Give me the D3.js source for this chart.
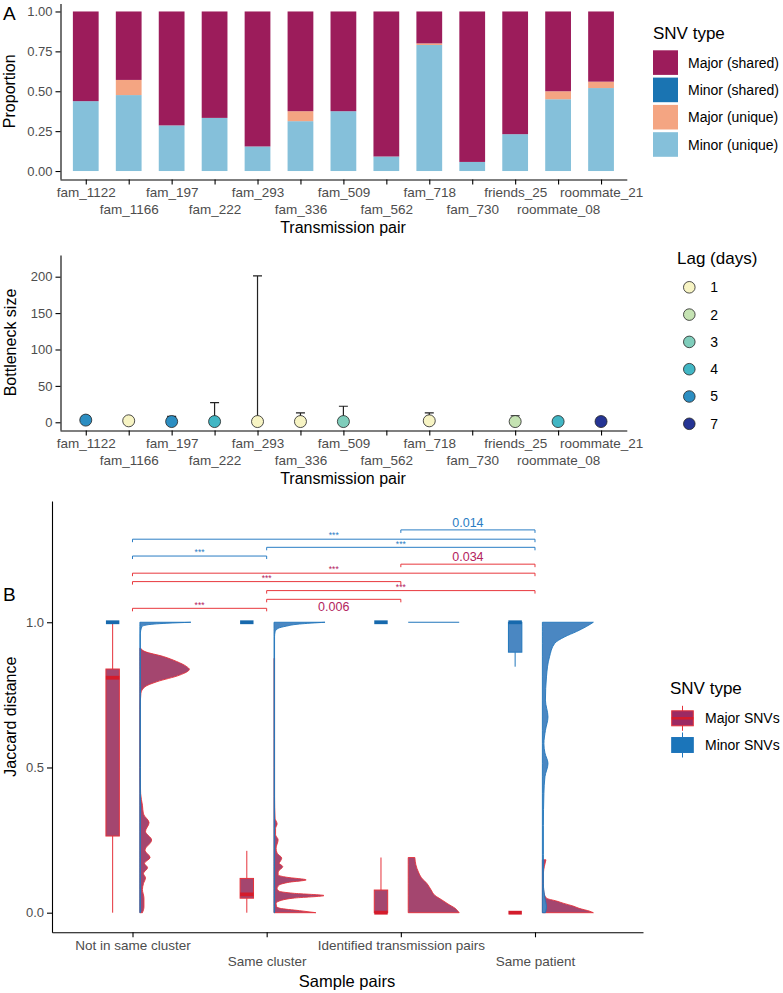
<!DOCTYPE html>
<html>
<head>
<meta charset="utf-8">
<script src="https://cdn.jsdelivr.net/npm/d3@7"></script>
<style>
  body { margin: 0; background: #fff; }
  svg { font-family: "Liberation Sans", Arial, Helvetica, sans-serif; }
  .axis text { fill: #4d4d4d; font-size: 13px; }
  .axis.x text { font-size: 13.5px; }
  .axis path, .axis line { stroke: #000; stroke-width: 1.1; }
</style>
</head>
<body>
<script>
// panel A: SNV composition per transmission pair
const pairs = ["fam_1122", "fam_1166", "fam_197", "fam_222", "fam_293", "fam_336", "fam_509",
  "fam_562", "fam_718", "fam_730", "friends_25", "roommate_08", "roommate_21"];
const snvTypes = ["Major (shared)", "Minor (shared)", "Major (unique)", "Minor (unique)"];
const majorShared = [0.562, 0.429, 0.714, 0.667, 0.846, 0.625, 0.625, 0.909, 0.20, 0.943, 0.769, 0.50, 0.44];
const minorShared = [0, 0, 0, 0, 0, 0, 0, 0, 0, 0, 0, 0, 0];
const majorUnique = [0, 0.095, 0, 0, 0, 0.0625, 0, 0, 0.01, 0, 0, 0.05, 0.04];
const minorUnique = [0.438, 0.476, 0.286, 0.333, 0.154, 0.3125, 0.375, 0.091, 0.79, 0.057, 0.231, 0.45, 0.52];
const propTicks = [0, 0.25, 0.5, 0.75, 1];

// bottleneck estimates
const bnEstimate = [3, 2, 1, 1, 1, 1, 1, null, 2, null, 1, 1, 1];
const bnLower = [0, 0, 0, 0, 0, 0, 0, null, 0, null, 0, 0, 0];
const bnUpper = [8, 3, 8, 27, 201, 13, 22, null, 13, null, 9, 3, 2];
const bnLag = [5, 1, 5, 4, 1, 1, 3, null, 1, null, 2, 4, 7];
const lagLevels = [1, 2, 3, 4, 5, 7];
const bnTicks = [0, 50, 100, 150, 200];

// panel B: jaccard distances
const groups = ["Not in same cluster", "Same cluster", "Identified transmission pairs", "Same patient"];
const snvSets = ["Major SNVs", "Minor SNVs"];
const jacTicks = [0, 0.5, 1];
// [min, q1, median, q3, max]
const majorBox = [[0, 0.264, 0.809, 0.839, 1], [0, 0.05, 0.063, 0.118, 0.213], [0, 0, 0, 0.078, 0.19], [0, 0, 0, 0, 0]];
const minorBox = [[1, 1, 1, 1, 1], [1, 1, 1, 1, 1], [1, 1, 1, 1, 1], [0.847, 0.897, 1, 1, 1]];
// [jaccard, relative density]
const majorDensity = [
  [[0, 0.05], [0.02, 0.08], [0.05, 0.08], [0.08, 0.05], [0.1, 0.07], [0.12, 0.11], [0.135, 0.07], [0.155, 0.15],
   [0.17, 0.09], [0.19, 0.2], [0.215, 0.1], [0.25, 0.23], [0.28, 0.11], [0.31, 0.18], [0.34, 0.07], [0.37, 0.05],
   [0.41, 0.015], [0.5, 0.005], [0.7, 0.005], [0.755, 0.02], [0.778, 0.1], [0.795, 0.33], [0.818, 0.78],
   [0.838, 0.97], [0.847, 0.92], [0.865, 0.72], [0.882, 0.46], [0.899, 0.1], [0.911, 0.01]],
  [[0, 0.82], [0.007, 0.5], [0.015, 0.12], [0.021, 0.05], [0.032, 0.04], [0.043, 0.15], [0.05, 0.37], [0.059, 0.98],
   [0.067, 0.37], [0.074, 0.1], [0.083, 0.06], [0.095, 0.1], [0.105, 0.3], [0.113, 0.63], [0.122, 0.25],
   [0.13, 0.08], [0.14, 0.08], [0.159, 0.17], [0.17, 0.1], [0.176, 0.12], [0.188, 0.15], [0.205, 0.06],
   [0.222, 0.04], [0.251, 0.08], [0.268, 0.03], [0.29, 0.03], [0.306, 0.06], [0.325, 0.02], [0.4, 0.01],
   [0.6, 0.01], [0.876, 0.01]],
  [[0, 1], [0.015, 0.92], [0.03, 0.78], [0.044, 0.66], [0.06, 0.52], [0.078, 0.45], [0.1, 0.37], [0.12, 0.26],
   [0.14, 0.2], [0.165, 0.15], [0.19, 0.13]],
  [[0, 1], [0.005, 0.93], [0.015, 0.72], [0.023, 0.6], [0.032, 0.42], [0.04, 0.28], [0.05, 0.08], [0.07, 0.03],
   [0.09, 0.02], [0.136, 0.02], [0.16, 0.04], [0.182, 0.07]]
];
const minorDensity = [
  [[0, 0.01], [0.5, 0.01], [0.96, 0.01], [0.985, 0.04], [0.991, 0.14], [0.9966, 0.53], [1, 1]],
  [[0, 0.01], [0.5, 0.01], [0.95, 0.01], [0.967, 0.02], [0.979, 0.08], [0.987, 0.25], [0.994, 0.5], [1, 1]],
  [[1, 1]],
  [[0, 0.06], [0.02, 0.08], [0.05, 0.05], [0.1, 0.02], [0.2, 0.02], [0.3, 0.02], [0.41, 0.03], [0.468, 0.05],
   [0.514, 0.11], [0.55, 0.05], [0.582, 0.03], [0.628, 0.06], [0.674, 0.11], [0.732, 0.06], [0.812, 0.08],
   [0.881, 0.14], [0.927, 0.24], [0.95, 0.44], [0.968, 0.67], [0.985, 0.86], [1, 1]]
];
// comparisons: [group from, group to, bracket height, label]
const minorTests = [[3, 4, 1.318, "0.014"], [1, 4, 1.286, "***"], [2, 4, 1.258, "***"], [1, 2, 1.228, "***"]];
const majorTests = [[3, 4, 1.2, "0.034"], [1, 4, 1.169, "***"], [1, 3, 1.14, "***"], [2, 4, 1.109, "***"],
  [2, 3, 1.079, "0.006"], [1, 2, 1.048, "***"]];
const labelsBelow = ["0.006"];

const width = 783;
const height = 993;

const svg = d3.select("body").append("svg").attr("width", width).attr("height", height);
svg.append("rect").attr("width", width).attr("height", height).attr("fill", "#fff");

function yAxis(x, scale, ticks, fmt) {
  svg.append("g").attr("class", "axis y").attr("transform", `translate(${x},0)`)
    .call(d3.axisLeft(scale).tickValues(ticks).tickFormat(fmt).tickSize(5).tickPadding(3).tickSizeOuter(0));
}

// x labels are dodged over two rows
function xAxis(y, scale, ticks, fmt) {
  const g = svg.append("g").attr("class", "axis x").attr("transform", `translate(0,${y})`)
    .call(d3.axisBottom(scale).tickValues(ticks).tickFormat(fmt).tickSize(5).tickPadding(3).tickSizeOuter(0));
  g.selectAll(".tick text").attr("dy", (d, i) => (i % 2 ? "1.93em" : "0.71em"));
}

function title(x, y, txt, size, rotate) {
  const t = svg.append("text").attr("font-size", size).attr("fill", "#000").text(txt);
  if (rotate) t.attr("transform", `translate(${x},${y}) rotate(-90)`).attr("text-anchor", "middle");
  else t.attr("x", x).attr("y", y);
  return t;
}

// ---------- A (top) ----------
const xPair = d3.scalePoint().domain(pairs).range([60, 626.8]).padding(0.6);
const yProp = d3.scaleLinear().domain([-0.05, 1.05]).range([179, 3.5]);
const barW = xPair.step() * 0.6;
const snvColour = d3.scaleOrdinal().domain(snvTypes).range(["#9c1c5b", "#1a74b2", "#f4a582", "#85c0da"]);

const rows = pairs.map((p, i) => ({
  pair: p,
  "Minor (unique)": minorUnique[i],
  "Major (unique)": majorUnique[i],
  "Minor (shared)": minorShared[i],
  "Major (shared)": majorShared[i]
}));
const stacked = d3.stack().keys(["Minor (unique)", "Major (unique)", "Minor (shared)", "Major (shared)"])(rows);

svg.append("g").selectAll("g").data(stacked).join("g")
  .attr("fill", d => snvColour(d.key))
  .selectAll("rect").data(d => d).join("rect")
  .attr("x", d => xPair(d.data.pair) - barW / 2)
  .attr("y", d => yProp(d[1]))
  .attr("width", barW)
  .attr("height", d => yProp(d[0]) - yProp(d[1]));

yAxis(60.5, yProp, propTicks, d3.format(".2f"));
xAxis(179.5, xPair, pairs, d => d);
title(15, (yProp.range()[0] + yProp.range()[1]) / 2, "Proportion", 16, true);
title(343, 233, "Transmission pair", 16).attr("text-anchor", "middle");
title(3, 19.5, "A", 19);

// legend
title(653, 38.5, "SNV type", 17);
const legA = svg.append("g").selectAll("g").data(snvTypes).join("g")
  .attr("transform", (d, i) => `translate(653,${50.3 + i * 27.3})`);
legA.append("rect").attr("width", 25).attr("height", 24.6).attr("fill", d => snvColour(d));
legA.append("text").attr("x", 35).attr("y", 12.5).attr("dy", "0.35em")
  .attr("font-size", 14).attr("fill", "#000").text(d => d);

// ---------- A (bottleneck) ----------
const yBn = d3.scaleLinear().domain([-10.6, 229.8]).range([430, 255]);
const lagColour = d3.scaleOrdinal().domain(lagLevels)
  .range(["#f7f4c4", "#c5e3b3", "#7fcdbb", "#41b6c4", "#2c8ec2", "#253494"]);
const bn = pairs.map((p, i) => ({ pair: p, est: bnEstimate[i], lo: bnLower[i], hi: bnUpper[i], lag: bnLag[i] }))
  .filter(d => d.est != null);

const gBn = svg.append("g");
const capW = 9;
gBn.selectAll("path.err").data(bn).join("path")
  .attr("fill", "none").attr("stroke", "#222").attr("stroke-width", 1.2)
  .attr("d", d => {
    const x = xPair(d.pair);
    return `M${x - capW / 2},${yBn(d.hi)}H${x + capW / 2}M${x},${yBn(d.hi)}V${yBn(d.lo)}` +
      `M${x - capW / 2},${yBn(d.lo)}H${x + capW / 2}`;
  });
gBn.selectAll("circle").data(bn).join("circle")
  .attr("cx", d => xPair(d.pair)).attr("cy", d => yBn(d.est)).attr("r", 6)
  .attr("fill", d => lagColour(d.lag)).attr("stroke", "#222").attr("stroke-width", 0.8);

yAxis(60.5, yBn, bnTicks, d3.format("d"));
xAxis(430.5, xPair, pairs, d => d);
title(15.5, (yBn.range()[0] + yBn.range()[1]) / 2, "Bottleneck size", 16, true);
title(343, 484, "Transmission pair", 16).attr("text-anchor", "middle");

title(677, 263.5, "Lag (days)", 17);
const legLag = svg.append("g").selectAll("g").data(lagLevels).join("g")
  .attr("transform", (d, i) => `translate(689.3,${287.3 + i * 27.3})`);
legLag.append("circle").attr("r", 5.8).attr("fill", d => lagColour(d))
  .attr("stroke", "#222").attr("stroke-width", 0.8);
legLag.append("text").attr("x", 21).attr("dy", "0.35em").attr("font-size", 14).attr("fill", "#000").text(d => d);

// ---------- B ----------
const xGrp = d3.scaleLinear().domain([0.4, 4.805]).range([52, 643]);
const yJac = d3.scaleLinear().domain([-0.0675, 1.4175]).range([932.3, 501]);
const unit = xGrp(1) - xGrp(0);
const boxW = 0.1 * unit;
const boxOff = -0.148 * unit;
const violOff = 0.055 * unit;
const violW = 0.38 * unit;

const style = {
  "Major SNVs": { fill: "#a4466f", line: "#e5323b", median: "#d41c2c", key: "#9c2a63" },
  "Minor SNVs": { fill: "#4a87c2", line: "#2176bb", median: "#1769ad", key: "#1b75ba" }
};

const gB = svg.append("g");

function drawViolin(dens, gi, s) {
  const base = xGrp(gi + 1) + violOff;
  if (dens.length === 1) {
    gB.append("line").attr("x1", base).attr("x2", base + dens[0][1] * violW)
      .attr("y1", yJac(dens[0][0])).attr("y2", yJac(dens[0][0]))
      .attr("stroke", s.line).attr("stroke-width", 1.2);
    return;
  }
  const pts = dens.slice().sort((a, b) => b[0] - a[0]);
  const area = d3.area().curve(d3.curveMonotoneY)
    .y(d => yJac(d[0])).x0(base).x1(d => base + d[1] * violW);
  gB.append("path").attr("d", area(pts)).attr("fill", s.fill)
    .attr("stroke", s.line).attr("stroke-width", 0.9).attr("stroke-linejoin", "round");
}

function drawBox(b, gi, s) {
  const cx = xGrp(gi + 1) + boxOff;
  const [mn, q1, md, q3, mx] = b;
  gB.append("path").attr("stroke", s.line).attr("stroke-width", 1)
    .attr("d", `M${cx},${yJac(mn)}V${yJac(q1)}M${cx},${yJac(q3)}V${yJac(mx)}`);
  if (q3 > q1) {
    gB.append("rect").attr("x", cx - boxW / 2).attr("width", boxW)
      .attr("y", yJac(q3)).attr("height", yJac(q1) - yJac(q3))
      .attr("fill", s.fill).attr("stroke", s.line).attr("stroke-width", 1);
  }
  gB.append("line").attr("x1", cx - boxW / 2).attr("x2", cx + boxW / 2)
    .attr("y1", yJac(md)).attr("y2", yJac(md))
    .attr("stroke", s.median).attr("stroke-width", 3.8);
}

groups.forEach((g, i) => {
  drawViolin(majorDensity[i], i, style["Major SNVs"]);
  drawBox(majorBox[i], i, style["Major SNVs"]);
});
groups.forEach((g, i) => {
  drawViolin(minorDensity[i], i, style["Minor SNVs"]);
  drawBox(minorBox[i], i, style["Minor SNVs"]);
});

// significance brackets
function drawTests(tests, lineCol, textCol) {
  tests.forEach(([a, b, lvl, lab]) => {
    const x1 = xGrp(a), x2 = xGrp(b), y = yJac(lvl);
    gB.append("path").attr("fill", "none").attr("stroke", lineCol).attr("stroke-width", 1)
      .attr("d", `M${x1},${y + 3}V${y}H${x2}V${y + 3}`);
    const stars = lab === "***";
    const below = labelsBelow.includes(lab);
    gB.append("text").attr("x", (x1 + x2) / 2)
      .attr("y", stars ? y - 0.8 : (below ? y + 12 : y - 2.8))
      .attr("text-anchor", "middle").attr("font-size", stars ? 8.5 : 12.5)
      .attr("fill", textCol).text(lab);
  });
}
drawTests(minorTests, "#2a7dc4", "#2a7dc4");
drawTests(majorTests, "#e8383d", "#b3235e");

yAxis(52, yJac, jacTicks, d3.format(".1f"));
xAxis(932.3, xGrp, [1, 2, 3, 4], d => groups[d - 1]);
title(15.5, (yJac.range()[0] + yJac.range()[1]) / 2, "Jaccard distance", 16, true);
title(347, 987, "Sample pairs", 16.5).attr("text-anchor", "middle");
title(3, 601, "B", 19);

title(670, 693.5, "SNV type", 17);
const legB = svg.append("g").selectAll("g").data(snvSets).join("g")
  .attr("transform", (d, i) => `translate(682.5,${718.3 + i * 26.7})`);
legB.append("line").attr("y1", -12.5).attr("y2", 12.5).attr("stroke", d => style[d].line).attr("stroke-width", 1);
legB.append("rect").attr("x", -10.8).attr("y", -7.5).attr("width", 21.6).attr("height", 15)
  .attr("fill", d => style[d].key).attr("stroke", d => style[d].line).attr("stroke-width", 1);
legB.filter(d => d === "Major SNVs").append("line").attr("x1", -10.8).attr("x2", 10.8)
  .attr("stroke", d => style[d].median).attr("stroke-width", 2.5);
legB.append("text").attr("x", 22.5).attr("dy", "0.35em").attr("font-size", 14).attr("fill", "#000").text(d => d);
</script>
</body>
</html>
